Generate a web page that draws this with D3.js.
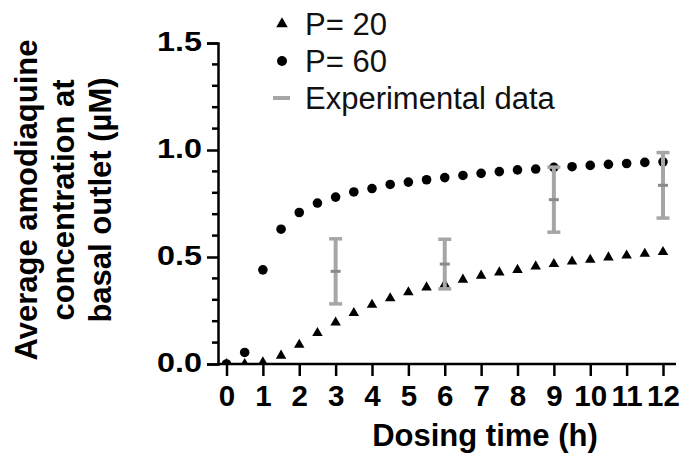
<!DOCTYPE html>
<html>
<head>
<meta charset="utf-8">
<script src="https://cdn.jsdelivr.net/npm/d3@7"></script>
<style>
	body { margin: 0; background: #fff; }
	svg { display: block; font-family: 'Liberation Sans', Arial, sans-serif; }
</style>
</head>
<body>
<svg class="chart" width="685" height="453"></svg>
<script>
/** DATA **/
let times = [0, 0.5, 1, 1.5, 2, 2.5, 3, 3.5, 4, 4.5, 5, 5.5, 6, 6.5, 7, 7.5, 8, 8.5, 9, 9.5, 10, 10.5, 11, 11.5, 12];
let p20 = [0, 0, 0.008, 0.039, 0.09, 0.145, 0.194, 0.238, 0.277, 0.307, 0.335, 0.358, 0.372, 0.394, 0.413, 0.428, 0.44, 0.456, 0.467, 0.479, 0.487, 0.498, 0.507, 0.515, 0.523];
let p60 = [0, 0.054, 0.44, 0.63, 0.708, 0.752, 0.78, 0.804, 0.82, 0.839, 0.85, 0.861, 0.871, 0.881, 0.891, 0.899, 0.907, 0.911, 0.919, 0.922, 0.928, 0.933, 0.937, 0.942, 0.945];
let expTimes = [3, 6, 9, 12];
let expMean = [0.433, 0.467, 0.768, 0.835];
let expSd = [0.152, 0.116, 0.152, 0.153];
let xTicks = [0, 1, 2, 3, 4, 5, 6, 7, 8, 9, 10, 11, 12];
let yTicks = [0, 0.5, 1.0, 1.5];
let legendLabels = ['P= 20', 'P= 60', 'Experimental data'];
let yTitleLines = ['Average amodiaquine', 'concentration at', 'basal outlet (\u00b5M)'];

/** CONSTANTS **/
let axisX = 218;
let x = d3.scaleLinear().domain([0, 12]).range([226.5, 663]);
let y = d3.scaleLinear().domain([0, 1.5]).range([364, 43]);
let grey = '#a6a6a6';
let darkGrey = '#8a8a8a';
let triangle = d3.symbol().type(d3.symbolTriangle).size(48);

let svg = d3.select('.chart');

createAxes();
createMarkers();
createErrorBars();
createLegend();
createTitles();

// axes, ticks and labels
function createAxes() {
	// y axis with minor ticks every 0.1
	let yAxis = svg.append('g')
		.attr('transform', 'translate(' + axisX + ',0)')
		.call(d3.axisLeft(y).tickValues(yTicks).tickSize(11).tickPadding(5).tickFormat(d3.format('.1f')));
	yAxis.selectAll('.tick text')
		.style('font', 'bold 27px "Liberation Sans", Arial, sans-serif')
		.attr('dy', '0.27em')
		.attr('textLength', 45)
		.attr('lengthAdjust', 'spacingAndGlyphs');

	let minor = d3.range(1, 15).filter(function(d) { return d % 5 !== 0; }).map(function(d) { return d / 10; });
	yAxis.selectAll('.minor')
		.data(minor)
		.enter()
		.append('line')
		.attr('class', 'minor')
		.attr('x1', -6)
		.attr('x2', 0)
		.attr('y1', function(d) { return y(d); })
		.attr('y2', function(d) { return y(d); });

	// x axis
	let xAxis = svg.append('g')
		.attr('transform', 'translate(0,' + y(0) + ')')
		.call(d3.axisBottom(x).tickValues(xTicks).tickSize(12).tickPadding(9));
	xAxis.select('.domain').attr('d', 'M' + axisX + ',0H' + (x(12) + 13));
	xAxis.selectAll('.tick text')
		.style('font', 'bold 29.5px "Liberation Sans", Arial, sans-serif');

	svg.selectAll('.domain, .tick line, .minor')
		.attr('stroke', '#000')
		.attr('stroke-width', 2.5);
}

// model points, clipped at the x axis
function createMarkers() {
	svg.append('clipPath')
		.attr('id', 'plot-clip')
		.append('rect')
		.attr('x', axisX)
		.attr('y', 0)
		.attr('width', 685 - axisX)
		.attr('height', y(0));

	let g = svg.append('g').attr('clip-path', 'url(#plot-clip)');

	g.selectAll('.p20')
		.data(p20)
		.enter()
		.append('path')
		.attr('class', 'p20')
		.attr('d', triangle)
		.attr('transform', function(d, i) { return 'translate(' + x(times[i]) + ',' + y(d) + ')'; })
		.style('fill', '#000');

	g.selectAll('.p60')
		.data(p60)
		.enter()
		.append('circle')
		.attr('class', 'p60')
		.attr('cx', function(d, i) { return x(times[i]); })
		.attr('cy', function(d) { return y(d); })
		.attr('r', 4.8)
		.style('fill', '#000');
}

// experimental mean +/- sd
function createErrorBars() {
	let bars = svg.selectAll('.err')
		.data(expMean)
		.enter()
		.append('g')
		.attr('class', 'err')
		.attr('transform', function(d, i) { return 'translate(' + x(expTimes[i]) + ',0)'; });

	bars.append('line')
		.attr('x1', 0).attr('x2', 0)
		.attr('y1', function(d, i) { return y(d + expSd[i]); })
		.attr('y2', function(d, i) { return y(d - expSd[i]); })
		.attr('stroke', grey)
		.attr('stroke-width', 4);

	[1, -1].forEach(function(sign) {
		bars.append('line')
			.attr('x1', -6.5).attr('x2', 6.5)
			.attr('y1', function(d, i) { return y(d + sign * expSd[i]); })
			.attr('y2', function(d, i) { return y(d + sign * expSd[i]); })
			.attr('stroke', grey)
			.attr('stroke-width', 3.5);
	});

	bars.append('line')
		.attr('x1', -5).attr('x2', 5)
		.attr('y1', function(d) { return y(d); })
		.attr('y2', function(d) { return y(d); })
		.attr('stroke', darkGrey)
		.attr('stroke-width', 3);
}

// legend top left of the plot
function createLegend() {
	let legend = svg.append('g')
		.selectAll('g')
		.data(legendLabels)
		.enter()
		.append('g')
		.attr('transform', function(d, i) { return 'translate(282,' + (24 + i * 37) + ')'; });

	legend.filter(function(d, i) { return i === 0; })
		.append('path')
		.attr('d', d3.symbol().type(d3.symbolTriangle).size(58))
		.style('fill', '#000');

	legend.filter(function(d, i) { return i === 1; })
		.append('circle')
		.attr('r', 5)
		.style('fill', '#000');

	legend.filter(function(d, i) { return i === 2; })
		.append('line')
		.attr('x1', -9).attr('x2', 8)
		.attr('stroke', grey)
		.attr('stroke-width', 4);

	legend.append('text')
		.attr('x', 23)
		.attr('y', 11)
		.style('font', '31px "Liberation Sans", Arial, sans-serif')
		.style('fill', '#111')
		.text(function(d) { return d; });
}

// axis titles
function createTitles() {
	svg.append('text')
		.attr('x', 485)
		.attr('y', 446)
		.attr('text-anchor', 'middle')
		.style('font', 'bold 31px "Liberation Sans", Arial, sans-serif')
		.text('Dosing time (h)');

	svg.append('g')
		.attr('transform', 'translate(0,200) rotate(-90)')
		.selectAll('text')
		.data(yTitleLines)
		.enter()
		.append('text')
		.attr('x', 0)
		.attr('y', function(d, i) { return 37 + i * 37; })
		.attr('text-anchor', 'middle')
		.style('font', 'bold 31px "Liberation Sans", Arial, sans-serif')
		.text(function(d) { return d; });
}
</script>
</body>
</html>
